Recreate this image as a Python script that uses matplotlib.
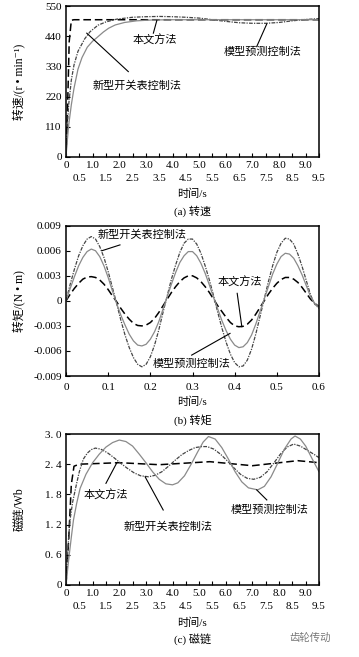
import numpy as np
import matplotlib.pyplot as plt

plt.rcParams['font.family'] = ['Liberation Serif', 'Noto Sans CJK SC', 'DejaVu Sans']
plt.rcParams['axes.unicode_minus'] = False

# (a) speed, r/min
t_a_dash = [0, 0.04, 0.08, 0.12, 0.2, 0.3, 1.0, 3.0, 5.0, 7.0, 9.5]
n_dash = [0, 120, 260, 420, 498, 500, 500, 500, 500, 500, 500]
t_a_dd = [0, 0.05, 0.1, 0.2, 0.3, 0.45, 0.7, 0.9, 1.2, 1.5, 1.9, 2.5, 3.0, 3.5, 4.0,
          4.5, 5.0, 5.5, 6.0, 6.5, 7.0, 7.5, 8.0, 8.5, 9.0, 9.5]
n_dd = [0, 110, 190, 280, 335, 385, 430, 456, 480, 492, 502, 509, 511, 512, 511,
        509, 506, 500, 494, 489, 487, 487, 490, 496, 501, 504]
t_a_sol = [0, 0.05, 0.1, 0.2, 0.3, 0.45, 0.6, 0.8, 1.0, 1.15, 1.4, 1.6, 1.85, 2.2,
           2.65, 3.2, 4.0, 6.0, 8.0, 9.5]
n_sol = [0, 60, 115, 190, 250, 320, 362, 400, 422, 434, 455, 469, 481, 490,
         496, 499, 500, 500, 500, 500]

# (b) torque, 1e-3 N*m
t_b = [0.00, 0.01, 0.02, 0.03, 0.04, 0.05, 0.06, 0.07, 0.08, 0.09, 0.10, 0.11, 0.12,
       0.13, 0.14, 0.15, 0.16, 0.17, 0.18, 0.19, 0.20, 0.21, 0.22, 0.23, 0.24, 0.25,
       0.26, 0.27, 0.28, 0.29, 0.30, 0.31, 0.32, 0.33, 0.34, 0.35, 0.36, 0.37, 0.38,
       0.39, 0.40, 0.41, 0.42, 0.43, 0.44, 0.45, 0.46, 0.47, 0.48, 0.49, 0.50, 0.51,
       0.52, 0.53, 0.54, 0.55, 0.56, 0.57, 0.58, 0.59, 0.60]
tq_dd = [0.0, 2.0, 3.8, 5.4, 6.6, 7.4, 7.7, 7.4, 6.5, 5.2, 3.5, 1.6, -0.3,
         -2.3, -4.1, -5.6, -6.8, -7.6, -7.9, -7.6, -6.7, -5.3, -3.5, -1.4, 0.6, 2.6,
         4.3, 5.8, 6.9, 7.4, 7.4, 6.8, 5.7, 4.2, 2.5, 0.6, -1.4, -3.3, -5.0,
         -6.4, -7.4, -7.9, -7.8, -7.1, -5.8, -4.0, -1.9, 0.2, 2.3, 4.2, 5.8, 6.9,
         7.5, 7.4, 6.8, 5.6, 4.1, 2.4, 0.7, -0.4, -0.9]
tq_sol = [0.0, 1.5, 2.9, 4.2, 5.2, 5.9, 6.2, 6.0, 5.3, 4.2, 2.8, 1.2, -0.3,
          -1.7, -2.9, -4.0, -4.8, -5.3, -5.4, -5.2, -4.6, -3.7, -2.5, -1.0, 0.5, 2.0,
          3.4, 4.6, 5.4, 5.9, 5.9, 5.4, 4.5, 3.3, 1.9, 0.4, -1.0, -2.4, -3.6,
          -4.6, -5.3, -5.6, -5.5, -5.0, -4.1, -2.8, -1.3, 0.2, 1.7, 3.2, 4.4, 5.3,
          5.7, 5.6, 5.1, 4.2, 3.1, 1.8, 0.5, -0.3, -0.8]
tq_dash = [0.0, 0.8, 1.5, 2.1, 2.6, 2.85, 2.9, 2.8, 2.5, 2.0, 1.35, 0.6, -0.1,
           -0.9, -1.6, -2.2, -2.7, -2.95, -3.0, -2.9, -2.6, -2.1, -1.4, -0.6, 0.2, 1.0,
           1.7, 2.3, 2.75, 3.0, 3.0, 2.75, 2.3, 1.7, 1.0, 0.2, -0.6, -1.3, -2.0,
           -2.6, -3.0, -3.1, -3.05, -2.8, -2.3, -1.6, -0.8, 0.0, 0.8, 1.5, 2.1, 2.55,
           2.8, 2.8, 2.6, 2.2, 1.6, 0.9, 0.2, -0.3, -0.7]

# (c) flux, Wb
t_c_dash = [0, 0.1, 0.2, 0.3, 0.5, 2.0, 3.5, 5.4, 7.0, 8.7, 9.5]
f_dash = [0, 0.9, 2.0, 2.36, 2.40, 2.43, 2.39, 2.45, 2.37, 2.47, 2.43]
t_c_dd = [0, 0.05, 0.1, 0.15, 0.25, 0.4, 0.5, 0.65, 0.8, 0.95, 1.1, 1.3, 1.55, 1.8,
          2.05, 2.3, 2.55, 2.8, 3.1, 3.35, 3.6, 3.85, 4.1, 4.35, 4.6, 4.85, 5.1, 5.3,
          5.55, 5.8, 6.05, 6.3, 6.55, 6.8, 7.05, 7.3, 7.55, 7.8, 8.05, 8.3, 8.55, 8.8,
          9.05, 9.3, 9.5]
f_dd = [0, 0.5, 0.95, 1.29, 1.65, 2.02, 2.25, 2.5, 2.62, 2.69, 2.72, 2.7, 2.63, 2.53,
        2.42, 2.32, 2.23, 2.17, 2.15, 2.18, 2.25, 2.36, 2.48, 2.59, 2.67, 2.73, 2.75, 2.75,
        2.7, 2.6, 2.47, 2.33, 2.2, 2.12, 2.1, 2.14, 2.25, 2.42, 2.6, 2.74, 2.8, 2.76,
        2.68, 2.6, 2.53]
t_c_sol = [0, 0.05, 0.1, 0.2, 0.28, 0.4, 0.53, 0.75, 1.0, 1.25, 1.5, 1.75, 2.0, 2.25,
           2.5, 2.75, 3.0, 3.25, 3.5, 3.75, 4.0, 4.2, 4.45, 4.7, 4.95, 5.15, 5.35, 5.6,
           5.85, 6.1, 6.35, 6.6, 6.85, 7.2, 7.45, 7.7, 7.95, 8.2, 8.45, 8.6, 8.8, 9.0,
           9.25, 9.5]
f_sol = [0, 0.25, 0.5, 0.95, 1.29, 1.62, 1.92, 2.2, 2.43, 2.6, 2.74, 2.83, 2.88, 2.85,
         2.76, 2.6, 2.43, 2.25, 2.1, 2.01, 1.99, 2.03, 2.17, 2.4, 2.65, 2.84, 2.95, 2.9,
         2.73, 2.5, 2.25, 2.05, 1.93, 1.89, 1.96, 2.15, 2.42, 2.7, 2.9, 2.96, 2.9, 2.76,
         2.5, 2.25]

W, H = 359, 657
fig = plt.figure(figsize=(W / 100, H / 100), dpi=100)

def px_axes(top, bottom):
    return fig.add_axes([66 / W, 1 - bottom / H, 253 / W, (bottom - top) / H])

FS = 8
c_dd = '#444444'
c_sol = '#8a8a8a'

def style(ax):
    for s in ax.spines.values():
        s.set_linewidth(1.1)
    ax.tick_params(direction='in', length=3, width=0.8, labelsize=FS, pad=3)

def time_axis(ax):
    ax.set_xlim(0, 9.5)
    ax.set_xticks(np.arange(0, 10, 1.0))
    ax.set_xticklabels(['0'] + ['%.1f' % v for v in np.arange(1, 10, 1.0)])
    ax.set_xticks(np.arange(0.5, 10, 1.0), minor=True)
    ax.set_xticklabels(['%.1f' % v for v in np.arange(0.5, 10, 1.0)], minor=True)
    ax.tick_params(axis='x', which='major', pad=4)
    ax.tick_params(axis='x', which='minor', direction='in', length=3, width=0.8,
                   labelsize=FS, pad=12.5)

def note(ax, text, txy, a, b):
    ax.plot([a[0], b[0]], [a[1], b[1]], color='black', lw=0.8)
    ax.text(txy[0], txy[1], text, fontsize=8, ha='center', va='center')

def plot3(ax, xs, ys):
    ax.plot(xs[0], ys[0], color='black', ls=(0, (5, 2.5)), lw=1.1)
    ax.plot(xs[1], ys[1], color=c_dd, ls=(0, (3, 1, 1, 1)), lw=0.9)
    ax.plot(xs[2], ys[2], color=c_sol, lw=0.9)

def captions(ax, ylab, xlab_y, cap, cap_y, ylab_x=-0.16):
    ax.set_ylabel(ylab, fontsize=8.5)
    ax.yaxis.set_label_coords(ylab_x, 0.5)
    ax.text(0.5, xlab_y, '时间/s', transform=ax.transAxes, fontsize=FS,
            ha='center', va='center')
    ax.text(0.5, cap_y, cap, transform=ax.transAxes, fontsize=FS,
            ha='center', va='center')

# (a)
ax1 = px_axes(6, 157)
plot3(ax1, [t_a_dash, t_a_dd, t_a_sol], [n_dash, n_dd, n_sol])
ax1.set_ylim(0, 550)
ax1.set_yticks([0, 110, 220, 330, 440, 550])
time_axis(ax1)
style(ax1)
captions(ax1, '转速/(r • min⁻¹)', -0.245, '(a) 转速', -0.36)
note(ax1, '本文方法', (3.34, 424), (3.28, 451), (3.41, 497))
note(ax1, '模型预测控制法', (7.40, 384), (7.16, 402), (7.54, 485))
note(ax1, '新型开关表控制法', (2.65, 259), (2.34, 311), (0.78, 451))

# (b)
ax2 = px_axes(225.7, 376)
plot3(ax2, [t_b, t_b, t_b],
      [np.array(tq_dash) / 1000, np.array(tq_dd) / 1000, np.array(tq_sol) / 1000])
ax2.set_xlim(0, 0.6)
ax2.set_ylim(-0.009, 0.009)
ax2.set_xticks([0, 0.1, 0.2, 0.3, 0.4, 0.5, 0.6])
ax2.set_xticklabels(['0', '0.1', '0.2', '0.3', '0.4', '0.5', '0.6'])
ax2.set_yticks([-0.009, -0.006, -0.003, 0, 0.003, 0.006, 0.009])
ax2.set_yticklabels(['-0.009', '-0.006', '-0.003', '0', '0.003', '0.006', '0.009'])
style(ax2)
ax2.tick_params(axis='x', pad=5)
captions(ax2, '转矩/(N • m)', -0.173, '(b) 转矩', -0.293)
note(ax2, '新型开关表控制法', (0.18, 0.0079), (0.128, 0.0067), (0.085, 0.0060))
note(ax2, '本文方法', (0.413, 0.0022), (0.406, 0.0009), (0.417, -0.0031))
note(ax2, '模型预测控制法', (0.298, -0.0076), (0.298, -0.0065), (0.389, -0.0039))

# (c)
ax3 = px_axes(434, 585)
plot3(ax3, [t_c_dash, t_c_dd, t_c_sol], [f_dash, f_dd, f_sol])
ax3.set_ylim(0, 3.0)
ax3.set_yticks([0, 0.6, 1.2, 1.8, 2.4, 3.0])
ax3.set_yticklabels(['0', '0. 6', '1. 2', '1. 8', '2. 4', '3. 0'])
time_axis(ax3)
style(ax3)
captions(ax3, '磁链/Wb', -0.252, '(c) 磁链', -0.358)
note(ax3, '本文方法', (1.50, 1.79), (1.50, 2.02), (1.90, 2.42))
note(ax3, '新型开关表控制法', (3.84, 1.16), (3.65, 1.49), (2.97, 2.15))
note(ax3, '模型预测控制法', (7.66, 1.49), (7.54, 1.69), (7.16, 1.89))

fig.text(310 / W, 1 - 638 / H, '齿轮传动', fontsize=7.5, color='#777777',
         ha='center', va='center', family='Noto Sans CJK SC')

fig.savefig('out.png', dpi=100)
